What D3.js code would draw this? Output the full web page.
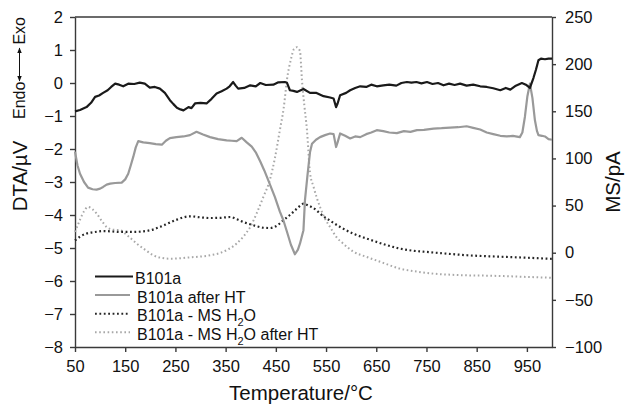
<!DOCTYPE html>
<html>
<head>
<meta charset="utf-8">
<script src="https://cdn.jsdelivr.net/npm/d3@7"></script>
<style>
  body { margin: 0; background: #fff; }
  svg { display: block; font-family: "Liberation Sans", Arial, sans-serif; }
</style>
</head>
<body>
<div id="chart"></div>
<script>
// DTA, left axis (µV)
const tempB101a = [50,60,73,82,90,98,106,115,122,130,138,146,156,168,179,189,199,209,219,229,239,246,253,260,266,276,282,289,300,312,322,332,342,352,358,365,370,375,387,399,410,419,430,445,455,468,472,478,485,492,505,518,531,545,558,565,570,573,578,590,598,608,618,630,640,651,664,676,690,700,711,720,730,740,751,762,773,784,795,806,817,830,843,857,870,883,897,908,917,928,940,948,956,963,968,973,978,986,993,1000];
const dtaB101a = [-0.86,-0.82,-0.73,-0.6,-0.42,-0.38,-0.3,-0.22,-0.12,-0.02,-0.05,-0.1,-0.02,-0.03,0.01,-0.02,-0.14,-0.12,-0.17,-0.3,-0.52,-0.64,-0.75,-0.8,-0.83,-0.73,-0.76,-0.62,-0.6,-0.62,-0.48,-0.32,-0.25,-0.17,-0.1,0.03,-0.08,-0.17,-0.15,-0.07,-0.1,0.0,-0.06,-0.05,0.02,0.03,0.01,-0.22,-0.24,-0.27,-0.18,-0.3,-0.3,-0.4,-0.44,-0.47,-0.73,-0.62,-0.37,-0.3,-0.22,-0.15,-0.1,-0.12,-0.05,-0.1,-0.07,-0.05,-0.08,0.0,0.03,0.01,0.03,-0.01,0.03,-0.03,0.0,-0.07,-0.02,-0.06,-0.02,-0.08,-0.05,-0.1,-0.12,-0.16,-0.22,-0.15,-0.2,-0.08,0.0,-0.05,-0.15,0.15,0.4,0.69,0.74,0.72,0.74,0.74];

const tempB101aHT = [50,55,60,68,76,85,93,100,106,113,120,130,143,150,156,161,166,171,176,186,199,211,223,231,239,252,266,279,292,305,319,335,352,362,372,382,392,402,410,419,427,435,448,458,465,472,480,488,494,498,505,508,513,518,522,530,538,548,558,565,570,573,578,588,598,608,618,630,640,651,664,676,691,705,718,731,745,764,780,797,813,830,843,857,870,883,897,910,922,936,941,946,951,956,961,966,970,973,980,986,993,1000];
const dtaB101aHT = [-2.08,-2.5,-2.75,-3.0,-3.17,-3.22,-3.23,-3.2,-3.15,-3.08,-3.05,-3.03,-3.02,-2.92,-2.75,-2.5,-2.24,-1.95,-1.76,-1.8,-1.82,-1.85,-1.87,-1.75,-1.67,-1.64,-1.62,-1.58,-1.48,-1.56,-1.64,-1.7,-1.74,-1.75,-1.76,-1.66,-1.8,-1.93,-2.1,-2.38,-2.65,-2.95,-3.45,-3.9,-4.16,-4.5,-4.9,-5.19,-5.05,-4.87,-4.46,-3.55,-2.8,-2.1,-1.84,-1.72,-1.64,-1.58,-1.53,-1.55,-1.94,-1.8,-1.53,-1.6,-1.68,-1.62,-1.64,-1.55,-1.5,-1.43,-1.46,-1.5,-1.52,-1.46,-1.48,-1.43,-1.42,-1.38,-1.37,-1.35,-1.34,-1.31,-1.36,-1.41,-1.5,-1.55,-1.6,-1.62,-1.6,-1.64,-1.5,-1.03,-0.4,-0.02,-0.45,-1.13,-1.45,-1.58,-1.6,-1.62,-1.7,-1.72];

// MS H2O, right axis (pA)
const tempMs = [50,60,73,90,106,125,140,165,186,205,219,235,253,266,279,300,319,340,359,372,385,400,412,425,438,450,465,478,492,500,505,515,531,538,558,578,605,631,665,697,725,751,790,831,870,910,950,990,1000];
const msB101a = [13,17,20.3,22,23,22.5,22,22,22.7,24.5,27.3,31,35.1,37.5,38.6,37.5,36.8,37,37.9,35.5,32.6,30,28,26.5,26.2,28,34.4,40,46.8,50.5,52,50,45,41.5,34,27.3,20,15,9,4.4,2,0.8,-1,-2.7,-3.7,-4.5,-5.3,-6.3,-6.5];

const tempMsHT = [50,60,68,76,85,93,103,113,125,140,155,173,190,206,222,239,256,272,290,306,322,339,355,372,385,399,412,425,438,448,458,466,472,480,486,492,498,502,507,512,518,525,538,548,558,570,584,605,631,665,697,730,764,797,830,864,897,940,990,1000];
const msB101aHT = [22,35,44,48.5,46,41.5,34,27.3,24.5,23.8,18,9.7,3,-2.7,-5.5,-6.3,-6,-5.2,-4.5,-3.8,-2.5,-0.3,3.5,9.7,17,27.3,42,59,77,100,130,155,183,205,216,218,214,183,155,130,85,70,48.5,36,27.3,17,9.7,1,-4.5,-11,-16.9,-20,-22.2,-23.3,-24,-24.3,-24.7,-25.5,-26.4,-26.6];

const xTicks = [50,150,250,350,450,550,650,750,850,950];
const dtaTicks = [-8,-7,-6,-5,-4,-3,-2,-1,0,1,2];
const msTicks = [-100,-50,0,50,100,150,200,250];

const seriesNames = ["B101a", "B101a after HT", "B101a - MS H|2|O", "B101a - MS H|2|O after HT"];

let margin = {top: 17, right: 75, bottom: 57, left: 75},
    width = 627 - margin.left - margin.right,
    height = 404 - margin.top - margin.bottom;

let svg = d3.select("#chart")
    .append("svg")
        .attr("width", 627)
        .attr("height", 404);

let g = svg.append("g")
    .attr("transform", `translate(${margin.left},${margin.top})`);

let x = d3.scaleLinear().domain([50, 1000]).range([0, width]);
let yDta = d3.scaleLinear().domain([-8, 2]).range([height, 0]);
let yMs = d3.scaleLinear().domain([-100, 250]).range([height, 0]);

let axisColor = "#3a3a3a";

// top frame line
g.append("line")
    .attr("x1", 0).attr("x2", width)
    .attr("y1", 0).attr("y2", 0)
    .attr("stroke", axisColor)
    .attr("stroke-width", 1.4);

function styleAxis(sel) {
    sel.selectAll("path, line").attr("stroke", axisColor).attr("stroke-width", 1.4);
    sel.selectAll("text").attr("fill", "#111").attr("font-size", 16.5).attr("font-family", null);
}

g.append("g")
    .attr("transform", `translate(0,${height})`)
    .call(d3.axisBottom(x).tickValues(xTicks).tickSize(5).tickSizeOuter(0).tickPadding(8).tickFormat(d3.format("d")))
    .call(styleAxis);

g.append("g")
    .call(d3.axisLeft(yDta).tickValues(dtaTicks).tickSize(5).tickSizeOuter(0).tickPadding(7))
    .call(styleAxis);

g.append("g")
    .attr("transform", `translate(${width},0)`)
    .call(d3.axisRight(yMs).tickValues(msTicks).tickSize(4).tickSizeOuter(0).tickPadding(9))
    .call(styleAxis);

// curves
let lineDta = d3.line().x(d => x(d[0])).y(d => yDta(d[1]));
let lineMs = d3.line().x(d => x(d[0])).y(d => yMs(d[1])).curve(d3.curveMonotoneX);

let series = [
    {data: d3.zip(tempMsHT, msB101aHT), line: lineMs, color: "#a8a8a8", dash: "1.6,2.6", width: 2},
    {data: d3.zip(tempMs, msB101a), line: lineMs, color: "#262626", dash: "1.8,2.6", width: 2.2},
    {data: d3.zip(tempB101aHT, dtaB101aHT), line: lineDta, color: "#999999", dash: null, width: 2.2},
    {data: d3.zip(tempB101a, dtaB101a), line: lineDta, color: "#1a1a1a", dash: null, width: 2.2}
];

series.forEach(s => {
    g.append("path")
        .datum(s.data)
        .attr("fill", "none")
        .attr("stroke", s.color)
        .attr("stroke-width", s.width)
        .attr("stroke-dasharray", s.dash)
        .attr("stroke-linejoin", "round")
        .attr("d", s.line);
});

// legend
let legendStyle = [
    {color: "#1a1a1a", dash: null},
    {color: "#999999", dash: null},
    {color: "#262626", dash: "1.8,2.6"},
    {color: "#a8a8a8", dash: "1.6,2.6"}
];
let legend = svg.append("g");
seriesNames.forEach((name, i) => {
    let yy = 276.5 + i * 18.6;
    legend.append("line")
        .attr("x1", 95).attr("x2", i === 0 ? 133 : 130)
        .attr("y1", yy).attr("y2", yy)
        .attr("stroke", legendStyle[i].color)
        .attr("stroke-width", 2)
        .attr("stroke-dasharray", legendStyle[i].dash);
    let t = legend.append("text")
        .attr("x", i === 0 ? 135 : 137)
        .attr("y", yy + 4)
        .attr("dy", "0.22em")
        .attr("font-size", 16)
        .attr("fill", "#111");
    let parts = name.split("|");
    t.append("tspan").text(parts[0]);
    if (parts.length > 1) {
        t.append("tspan").attr("font-size", 11).attr("dy", 5).text(parts[1]);
        t.append("tspan").attr("dy", -5).text(parts[2]);
    }
});

// axis titles
svg.append("text")
    .attr("x", 301)
    .attr("y", 400)
    .attr("text-anchor", "middle")
    .attr("font-size", 20.5)
    .attr("fill", "#111")
    .text("Temperature/°C");

svg.append("text")
    .attr("transform", "translate(27,176) rotate(-90)")
    .attr("text-anchor", "middle")
    .attr("font-size", 20.5)
    .attr("fill", "#111")
    .text("DTA/µV");

let endo = svg.append("g").attr("transform", "translate(25,119) rotate(-90)");
endo.append("text")
    .attr("x", 0).attr("y", 0)
    .attr("font-size", 16)
    .attr("fill", "#111")
    .text("Endo");
endo.append("text")
    .attr("x", 102).attr("y", 0)
    .attr("text-anchor", "end")
    .attr("font-size", 16)
    .attr("fill", "#111")
    .text("Exo");
svg.append("defs").append("marker")
    .attr("id", "arrowhead")
    .attr("viewBox", "0 0 10 10")
    .attr("refX", 9).attr("refY", 5)
    .attr("markerWidth", 6).attr("markerHeight", 6)
    .attr("orient", "auto-start-reverse")
    .append("path")
        .attr("d", "M0,1 L10,5 L0,9 Z")
        .attr("fill", "#111");
endo.append("line")
    .attr("x1", 38).attr("x2", 71)
    .attr("y1", -5.5).attr("y2", -5.5)
    .attr("stroke", "#111")
    .attr("stroke-width", 1)
    .attr("marker-start", "url(#arrowhead)")
    .attr("marker-end", "url(#arrowhead)");

svg.append("text")
    .attr("transform", "translate(620,182) rotate(-90)")
    .attr("text-anchor", "middle")
    .attr("font-size", 20.5)
    .attr("fill", "#111")
    .text("MS/pA");
</script>
</body>
</html>
